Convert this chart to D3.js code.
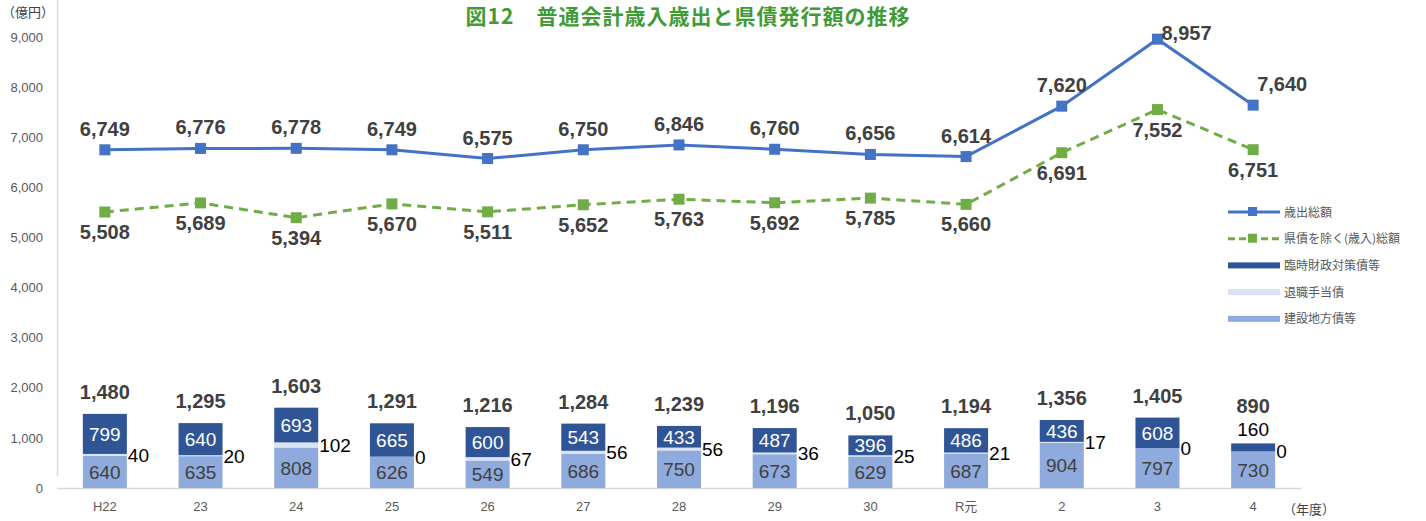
<!DOCTYPE html>
<html>
<head>
<meta charset="utf-8">
<script src="https://cdn.jsdelivr.net/npm/d3@7"></script>
<style>
body { margin: 0; background: #fff; }
text { font-family: "Liberation Sans", Arial, "Noto Sans CJK JP", sans-serif; }
.cjk { font-family: "Noto Sans CJK JP", sans-serif; }
</style>
</head>
<body>
<script>
(function(){

//data
var years = ["H22","23","24","25","26","27","28","29","30","R元","2","3","4"];
var kensetsu = [640, 635, 808, 626, 549, 686, 750, 673, 629, 687, 904, 797, 730];   //建設地方債等
var taishoku = [40, 20, 102, 0, 67, 56, 56, 36, 25, 21, 17, 0, 0];                  //退職手当債
var rinji = [799, 640, 693, 665, 600, 543, 433, 487, 396, 486, 436, 608, 160];      //臨時財政対策債等
var bondTotals = [1480, 1295, 1603, 1291, 1216, 1284, 1239, 1196, 1050, 1194, 1356, 1405, 890];
var saishutsu = [6749, 6776, 6778, 6749, 6575, 6750, 6846, 6760, 6656, 6614, 7620, 8957, 7640];
var sainyu = [5508, 5689, 5394, 5670, 5511, 5652, 5763, 5692, 5785, 5660, 6691, 7552, 6751];
var yTicks = [0, 1000, 2000, 3000, 4000, 5000, 6000, 7000, 8000, 9000];
var legendNames = ["歳出総額", "県債を除く(歳入)総額", "臨時財政対策債等", "退職手当債", "建設地方債等"];

var width = 1426, height = 521;
var fmt = d3.format(",");
var smallSeg = 12; //segments thinner than this get their label above the bar

var svg = d3.select("body")
    .append("svg")
    .attr("width", width)
    .attr("height", height);

//scales
var x = d3.scaleBand()
    .domain(years)
    .range([57, 1301])
    .paddingInner(0.54)
    .paddingOuter(0.27);

var y = d3.scaleLinear()
    .domain([0, 9000])
    .range([488, 37]);

//title
svg.append("text")
    .attr("class", "cjk")
    .attr("x", 688)
    .attr("y", 24)
    .attr("text-anchor", "middle")
    .style("font-size", "21px")
    .style("letter-spacing", "1px")
    .style("font-weight", "bold")
    .style("fill", "#3f9b35")
    .text("図12　普通会計歳入歳出と県債発行額の推移");

//unit label
svg.append("text")
    .attr("class", "cjk")
    .attr("x", 2)
    .attr("y", 17)
    .style("font-size", "13px")
    .style("fill", "#404040")
    .text("（億円）");

//vertical axis
var yAxis = d3.axisLeft(y)
    .tickValues(yTicks)
    .tickFormat(fmt)
    .tickSize(0)
    .tickPadding(14);

var yg = svg.append("g")
    .attr("transform", "translate(57,0)")
    .call(yAxis);
yg.select(".domain").remove();
yg.selectAll("text")
    .style("font-size", "13px")
    .style("fill", "#595959")
    .style("font-family", "'Liberation Sans', Arial, sans-serif");

svg.append("line")
    .attr("x1", 57.5).attr("x2", 57.5)
    .attr("y1", 0).attr("y2", 476)
    .style("stroke", "#d9d9d9")
    .style("stroke-width", 1.5);

//horizontal axis
var xAxis = d3.axisBottom(x)
    .tickSize(0)
    .tickPadding(14);

var xg = svg.append("g")
    .attr("transform", "translate(0," + y(0) + ")")
    .call(xAxis);
xg.select(".domain")
    .style("stroke", "#d9d9d9")
    .style("stroke-width", 1.5);
xg.selectAll("text")
    .style("font-size", "13px")
    .style("fill", "#595959")
    .style("font-family", "'Liberation Sans', Arial, 'Noto Sans CJK JP', sans-serif");

svg.append("text")
    .attr("class", "cjk")
    .attr("x", 1283)
    .attr("y", 514)
    .style("font-size", "13px")
    .style("fill", "#404040")
    .text("（年度）");

//stacked bars
var stackData = years.map(function(yr, i){
    return { year: yr, kensetsu: kensetsu[i], taishoku: taishoku[i], rinji: rinji[i], i: i };
});
var keys = ["kensetsu", "taishoku", "rinji"];
var colors = { kensetsu: "#8faadc", taishoku: "#dae3f3", rinji: "#2f5597" };
var series = d3.stack().keys(keys)(stackData);

svg.selectAll(".layer")
    .data(series)
    .enter()
    .append("g")
    .attr("class", "layer")
    .style("fill", function(d){ return colors[d.key]; })
    .selectAll("rect")
    .data(function(d){ return d; })
    .enter()
    .append("rect")
    .attr("x", function(d){ return x(d.data.year); })
    .attr("width", x.bandwidth())
    .attr("y", function(d){ return y(d[1]); })
    .attr("height", function(d){ return y(d[0]) - y(d[1]); });

var numStyle = function(sel, size, color, weight){
    sel.style("font-size", size + "px")
        .style("fill", color)
        .style("font-weight", weight || "normal");
};

//label in bottom segment
svg.selectAll(".lblK")
    .data(series[0])
    .enter()
    .append("text")
    .attr("x", function(d){ return x(d.data.year) + x.bandwidth() / 2; })
    .attr("y", function(d){ return (y(d[0]) + y(d[1])) / 2 + 7; })
    .attr("text-anchor", "middle")
    .call(numStyle, 19, "#404040")
    .text(function(d){ return fmt(d.data.kensetsu); });

//label for middle segment (right of bar)
svg.selectAll(".lblT")
    .data(series[1])
    .enter()
    .append("text")
    .attr("x", function(d){ return x(d.data.year) + x.bandwidth() + 1; })
    .attr("y", function(d){ return (y(d[0]) + y(d[1])) / 2 + 7; })
    .call(numStyle, 19, "#000")
    .text(function(d){ return fmt(d.data.taishoku); });

//label for top segment
svg.selectAll(".lblR")
    .data(series[2])
    .enter()
    .append("text")
    .attr("x", function(d){ return x(d.data.year) + x.bandwidth() / 2; })
    .attr("y", function(d){
        var h = y(d[0]) - y(d[1]);
        if (h < smallSeg) return y(d[1]) - 7;
        return (y(d[0]) + y(d[1])) / 2 + 7;
    })
    .attr("text-anchor", "middle")
    .each(function(d){
        var h = y(d[0]) - y(d[1]);
        d3.select(this).call(numStyle, 19, h < smallSeg ? "#000" : "#fff");
    })
    .text(function(d){ return fmt(d.data.rinji); });

//totals above bars
svg.selectAll(".lblTotal")
    .data(series[2])
    .enter()
    .append("text")
    .attr("x", function(d){ return x(d.data.year) + x.bandwidth() / 2; })
    .attr("y", function(d){
        var h = y(d[0]) - y(d[1]);
        if (h < smallSeg) return y(d[1]) - 30;
        return y(d[1]) - 15;
    })
    .attr("text-anchor", "middle")
    .call(numStyle, 20, "#404040", "bold")
    .text(function(d){ return fmt(bondTotals[d.data.i]); });

//lines
var cx = function(i){ return x(years[i]) + x.bandwidth() / 2; };
var line = d3.line()
    .x(function(d, i){ return cx(i); })
    .y(function(d){ return y(d); });

svg.append("path")
    .datum(sainyu)
    .attr("d", line)
    .style("fill", "none")
    .style("stroke", "#70ad47")
    .style("stroke-width", 3)
    .style("stroke-dasharray", "9,6");

svg.append("path")
    .datum(saishutsu)
    .attr("d", line)
    .style("fill", "none")
    .style("stroke", "#4472c4")
    .style("stroke-width", 3);

svg.selectAll(".mkG")
    .data(sainyu)
    .enter()
    .append("rect")
    .attr("x", function(d, i){ return cx(i) - 5.5; })
    .attr("y", function(d){ return y(d) - 5.5; })
    .attr("width", 11).attr("height", 11)
    .style("fill", "#70ad47");

svg.selectAll(".mkB")
    .data(saishutsu)
    .enter()
    .append("rect")
    .attr("x", function(d, i){ return cx(i) - 5.5; })
    .attr("y", function(d){ return y(d) - 5.5; })
    .attr("width", 11).attr("height", 11)
    .style("fill", "#4472c4");

//line labels
svg.selectAll(".lblB")
    .data(saishutsu)
    .enter()
    .append("text")
    .attr("x", function(d, i){ return i >= 11 ? cx(i) + 4 : cx(i); })
    .attr("y", function(d, i){ return i == 11 ? y(d) + 1 : y(d) - 14; })
    .attr("text-anchor", function(d, i){ return i >= 11 ? "start" : "middle"; })
    .call(numStyle, 20, "#404040", "bold")
    .text(function(d){ return fmt(d); });

svg.selectAll(".lblG")
    .data(sainyu)
    .enter()
    .append("text")
    .attr("x", function(d, i){ return cx(i); })
    .attr("y", function(d){ return y(d) + 27; })
    .attr("text-anchor", "middle")
    .call(numStyle, 20, "#404040", "bold")
    .text(function(d){ return fmt(d); });

//legend
var legend = svg.append("g")
    .attr("transform", "translate(1228,212)");

var legendColors = ["#4472c4", "#70ad47", "#2f5597", "#dae3f3", "#8faadc"];

legendNames.forEach(function(name, i){
    var row = legend.append("g")
        .attr("transform", "translate(0," + (i * 26.7) + ")");
    if (i < 2){
        row.append("line")
            .attr("x1", 0).attr("x2", 52)
            .style("stroke", legendColors[i])
            .style("stroke-width", 3)
            .style("stroke-dasharray", i == 1 ? "7,4" : null);
        row.append("rect")
            .attr("x", 20).attr("y", -5)
            .attr("width", 9).attr("height", 9)
            .style("fill", legendColors[i]);
    } else {
        row.append("rect")
            .attr("x", 0).attr("y", -3)
            .attr("width", 52).attr("height", 6)
            .style("fill", legendColors[i]);
    }
    row.append("text")
        .attr("class", "cjk")
        .attr("x", 56)
        .attr("y", 4.5)
        .style("font-size", "12px")
        .style("fill", "#595959")
        .text(name);
});

})();
</script>
</body>
</html>
